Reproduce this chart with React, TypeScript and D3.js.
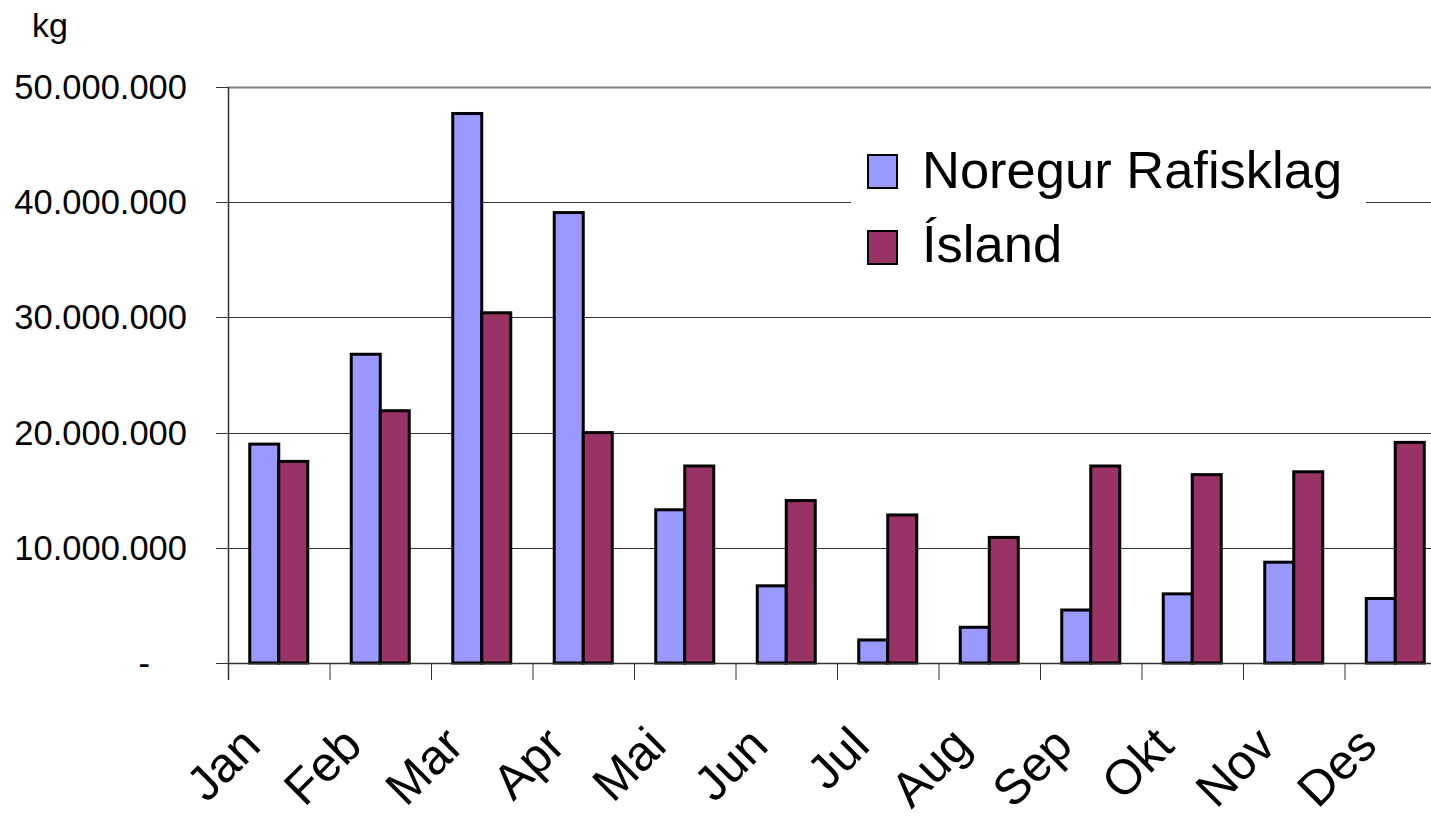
import React, { useEffect, useRef } from "react";
import * as d3 from "d3";

const months = ["Jan", "Feb", "Mar", "Apr", "Mai", "Jun", "Jul", "Aug", "Sep", "Okt", "Nov", "Des"];
const seriesNames = ["Noregur Rafisklag", "Ísland"];
const noregur = [19.0e6, 26.8e6, 47.7e6, 39.1e6, 13.3e6, 6.7e6, 2.0e6, 3.1e6, 4.6e6, 6.0e6, 8.75e6, 5.6e6];
const island = [17.5e6, 21.9e6, 30.4e6, 20.0e6, 17.1e6, 14.1e6, 12.85e6, 10.9e6, 17.1e6, 16.35e6, 16.6e6, 19.15e6];
const yTicks = [0, 10e6, 20e6, 30e6, 40e6, 50e6];
const colors = ["#9999FF", "#993366"];

const FONT = "'Liberation Sans', Arial, sans-serif";

export default function App() {
  const ref = useRef<SVGSVGElement>(null);

  useEffect(() => {
    const svg = d3.select(ref.current);
    svg.selectAll("*").remove();

    const left = 228, bottom = 663, top = 87;
    const band = 101.5;
    const right = left + band * months.length;

    const x0 = d3.scaleBand<string>().domain(months).range([left, right]).padding(0);
    const x1 = d3.scaleBand<string>().domain(seriesNames).range([0, x0.bandwidth()]).paddingInner(0).paddingOuter(0.75);
    const y = d3.scaleLinear().domain([0, 50e6]).range([bottom, top]);

    const locale = d3.formatLocale({ decimal: ",", thousands: ".", grouping: [3], currency: ["", " kr"] });
    const fmt = locale.format(",.0f");

    // gridlines
    svg.append("g")
      .selectAll("line")
      .data(yTicks.filter((d) => d > 0))
      .join("line")
      .attr("x1", left)
      .attr("x2", right)
      .attr("y1", (d) => Math.round(y(d)) + 0.5)
      .attr("y2", (d) => Math.round(y(d)) + 0.5)
      .attr("stroke", (d) => (d === 50e6 ? "#808080" : "#333"))
      .attr("stroke-width", (d) => (d === 50e6 ? 2 : 1));

    // y tick marks
    svg.append("g")
      .selectAll("line")
      .data(yTicks)
      .join("line")
      .attr("x1", left - 12)
      .attr("x2", left)
      .attr("y1", (d) => Math.round(y(d)) + 0.5)
      .attr("y2", (d) => Math.round(y(d)) + 0.5)
      .attr("stroke", "#333")
      .attr("stroke-width", 1);

    // y labels
    svg.append("g")
      .selectAll("text")
      .data(yTicks)
      .join("text")
      .attr("x", (d) => (d === 0 ? 150 : 187))
      .attr("y", (d) => y(d))
      .attr("dy", "0.35em")
      .attr("text-anchor", "end")
      .attr("font-family", FONT)
      .attr("font-size", 34.5)
      .attr("fill", "#000")
      .text((d) => (d === 0 ? "-" : fmt(d)));

    // unit label
    svg.append("text")
      .attr("x", 32)
      .attr("y", 37)
      .attr("font-family", FONT)
      .attr("font-size", 34)
      .text("kg");

    // legend background (covers gridlines)
    const lg = svg.append("g");
    lg.append("rect").attr("x", 851).attr("y", 130).attr("width", 515).attr("height", 150).attr("fill", "#fff");

    // bars
    const data = months.map((m, i) => ({ m, vals: [noregur[i], island[i]] }));
    const groups = svg.append("g")
      .selectAll("g")
      .data(data)
      .join("g")
      .attr("transform", (d) => `translate(${x0(d.m)},0)`);
    groups.selectAll("rect")
      .data((d) => d.vals.map((v, j) => ({ v, s: seriesNames[j], j })))
      .join("rect")
      .attr("x", (d) => x1(d.s)!)
      .attr("y", (d) => y(d.v))
      .attr("width", x1.bandwidth())
      .attr("height", (d) => bottom - y(d.v))
      .attr("fill", (d) => colors[d.j])
      .attr("stroke", "#000")
      .attr("stroke-width", 3);

    // axes lines
    svg.append("line").attr("x1", left + 0.5).attr("x2", left + 0.5).attr("y1", top).attr("y2", bottom + 17).attr("stroke", "#333").attr("stroke-width", 1.5);
    svg.append("line").attr("x1", left).attr("x2", right).attr("y1", bottom + 0.5).attr("y2", bottom + 0.5).attr("stroke", "#333").attr("stroke-width", 1.5);

    // category tick marks
    svg.append("g")
      .selectAll("line")
      .data(months)
      .join("line")
      .attr("x1", (d) => x0(d)! + 0.5)
      .attr("x2", (d) => x0(d)! + 0.5)
      .attr("y1", bottom)
      .attr("y2", bottom + 17)
      .attr("stroke", "#333")
      .attr("stroke-width", 1);

    // x labels
    svg.append("g")
      .selectAll("text")
      .data(months)
      .join("text")
      .attr("transform", (d) => `translate(${x0(d)! + x0.bandwidth() / 2 - 16},748) rotate(-45)`)
      .attr("text-anchor", "end")
      .attr("font-family", FONT)
      .attr("font-size", 49)
      .attr("fill", "#000")
      .text((d) => d);

    // legend entries
    seriesNames.forEach((s, i) => {
      const yy = 155 + i * 76;
      lg.append("rect").attr("x", 868).attr("y", yy).attr("width", 29).attr("height", 33)
        .attr("fill", colors[i]).attr("stroke", "#000").attr("stroke-width", 2);
      lg.append("text").attr("x", 922).attr("y", 188 + i * 74)
        .attr("font-family", FONT).attr("font-size", 52.5).attr("fill", "#000").text(s);
    });
  }, []);

  return (
    <svg
      ref={ref}
      width={1431}
      height={816}
      style={{ position: "absolute", left: 0, top: 0, background: "#fff" }}
    />
  );
}
